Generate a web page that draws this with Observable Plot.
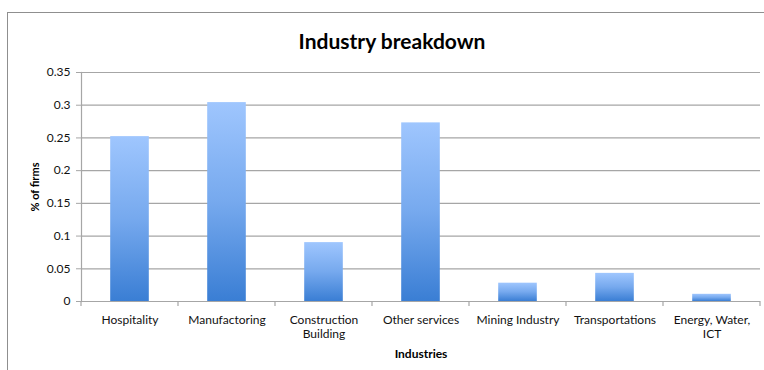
<!DOCTYPE html>
<html>
<head>
<meta charset="utf-8">
<script src="https://cdn.jsdelivr.net/npm/d3@7"></script>
<script src="https://cdn.jsdelivr.net/npm/@observablehq/plot@0.6"></script>
<style>
  html, body { margin: 0; padding: 0; background: #fff; }
  #wrap { position: relative; width: 764px; height: 370px; overflow: hidden; }
  #border { position: absolute; left: 7px; top: 12px; width: 800px; height: 400px;
            border-left: 1px solid #8f8f8f; border-top: 1px solid #8f8f8f; pointer-events: none; }
  svg { font-family: Lato, "Open Sans", sans-serif; }
</style>
</head>
<body>
<div id="wrap"><div id="border"></div></div>
<script>
const title = "Industry breakdown";
const xTitle = "Industries";
const yTitle = "% of firms";
const categories = ["Hospitality", "Manufactoring", "Construction Building", "Other services", "Mining Industry", "Transportations", "Energy, Water, ICT"];
const tickLabels = ["Hospitality", "Manufactoring", "Construction\nBuilding", "Other services", "Mining Industry", "Transportations", "Energy, Water,\nICT"];
const values = [0.252, 0.304, 0.090, 0.273, 0.028, 0.043, 0.011];
const yTicks = [0, 0.05, 0.1, 0.15, 0.2, 0.25, 0.3, 0.35];

const data = categories.map((c, i) => ({category: c, value: values[i]}));
const labelOf = new Map(categories.map((c, i) => [c, tickLabels[i]]));

const W = 764, H = 370, mL = 81, mR = 4, mT = 72, mB = 69;
const bw = (W - mL - mR) / categories.length;
const barInset = (bw - 38.6) / 2;
const grid = "#a6a6a6";

const chart = Plot.plot({
  width: W, height: H,
  marginLeft: mL, marginRight: mR, marginTop: mT, marginBottom: mB,
  style: {fontFamily: "Lato, 'Open Sans', sans-serif", fontSize: "12px", color: "#111", background: "transparent", overflow: "visible"},
  x: {domain: categories, padding: 0, label: null},
  y: {domain: [0, 0.35], label: null},
  marks: [
    Plot.gridY(yTicks, {stroke: grid, strokeOpacity: 1, strokeWidth: 1.2}),
    Plot.barY(data, {x: "category", y: "value", fill: "url(#barGrad)", insetLeft: barInset, insetRight: barInset}),
    Plot.ruleY([0], {stroke: grid, strokeWidth: 1.2}),
    Plot.frame({anchor: "left", stroke: grid, strokeWidth: 1.2}),
    Plot.axisY({ticks: yTicks, tickSize: 5, tickPadding: 6, stroke: grid, fontSize: 12,
      tickFormat: d => String(+d.toFixed(2)), label: null}),
    Plot.axisX({tickSize: 0, tickPadding: 12, fontSize: 12, lineHeight: 1.2,
      tickFormat: d => labelOf.get(d), label: null}),
    Plot.text([title], {frameAnchor: "top", dx: 391.5 - (mL + (W - mL - mR) / 2), dy: -24, lineAnchor: "bottom",
      fontSize: 21, fontWeight: "bold", fill: "#000"}),
    Plot.text([yTitle], {frameAnchor: "left", textAnchor: "middle", rotate: -90, dx: -46, fontSize: 11, fontWeight: "bold", fill: "#000"}),
    Plot.text([xTitle], {frameAnchor: "bottom", dy: 56, lineAnchor: "bottom", fontSize: 12, fontWeight: "bold", fill: "#000"})
  ]
});

// gradient definition for bars
const svg = d3.select(chart);
const defs = svg.insert("defs", ":first-child");
const g = defs.append("linearGradient").attr("id", "barGrad")
  .attr("x1", 0).attr("y1", 0).attr("x2", 0).attr("y2", 1);
g.append("stop").attr("offset", "0%").attr("stop-color", "#9fc6fe");
g.append("stop").attr("offset", "50%").attr("stop-color", "#76a9ee");
g.append("stop").attr("offset", "100%").attr("stop-color", "#3a7ed4");

// category boundary ticks on the x axis, from the chart's own x scale
const xs = chart.scale("x");
const ys = chart.scale("y");
const y0 = ys.apply(0);
const bounds = categories.map(c => xs.apply(c)).concat([xs.apply(categories[categories.length - 1]) + xs.bandwidth]);
svg.append("g").attr("stroke", grid).attr("stroke-width", 1.2)
  .selectAll("line").data(bounds).join("line")
  .attr("x1", d => d).attr("x2", d => d).attr("y1", y0).attr("y2", y0 + 5);

document.getElementById("wrap").prepend(chart);
</script>
</body>
</html>
